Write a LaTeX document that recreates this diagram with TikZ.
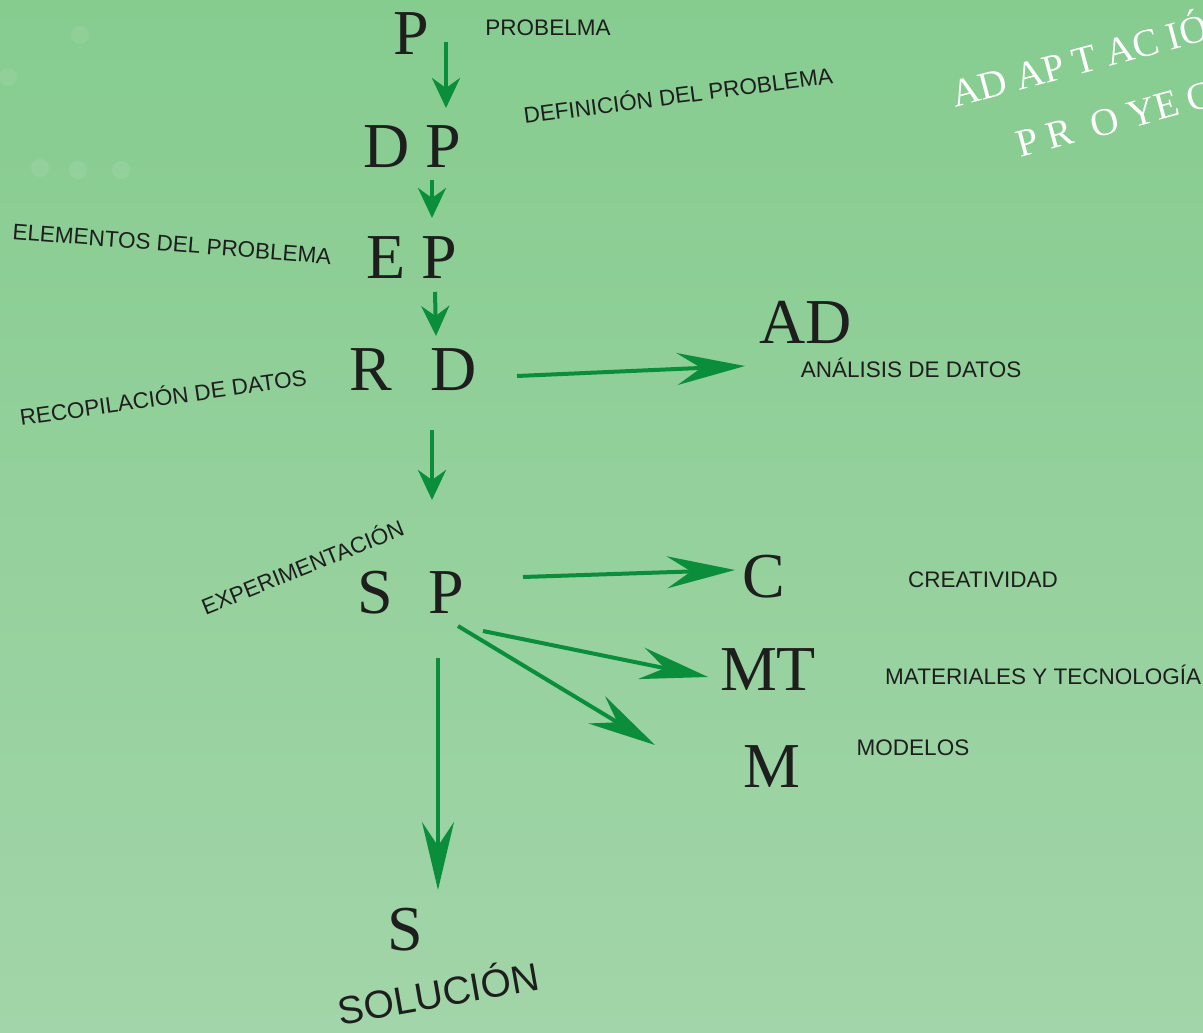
\documentclass[tikz,border=0pt]{standalone}
\usepackage{fontspec}
\setmainfont{Liberation Serif}
\newfontfamily\handfont{Liberation Sans}
\usepackage{xcolor}
\definecolor{bgtop}{HTML}{86CC8F}
\definecolor{bgbot}{HTML}{A2D5A9}
\definecolor{flowgreen}{HTML}{0B8E3B}
\definecolor{inkdark}{HTML}{1E1E1E}
\usepackage{tikz}
\usetikzlibrary{arrows.meta,positioning,calc}
\tikzset{
  bigletter/.style={inner sep=0pt, anchor=base, text=inkdark,
    font=\fontsize{64}{64}\selectfont},
  notehand/.style={inner sep=0pt, text=inkdark, font=\handfont\fontsize{22.5}{22.5}\selectfont},
  titlewhite/.style={anchor=base west, inner sep=0pt, text=white, rotate=15,
    font=\fontsize{39}{39}\selectfont},
  flowshort/.style={draw=flowgreen, line width=4pt,
    -{Stealth[length=30pt, width=28pt, inset=10pt]}},
  flowlong/.style={draw=flowgreen, line width=4pt,
    -{Stealth[length=68pt, width=32pt, inset=24pt]}},
}

\begin{document}
\begin{tikzpicture}[x=1pt, y=-1pt]
  % background
  \shade[top color=bgtop, bottom color=bgbot] (0,0) rectangle (1203,1033);
  \useasboundingbox (0,0) rectangle (1203,1033);
  \foreach \bx/\by in {80/35, 8/77, 40/168, 78/170, 121/170}
    \fill[white, opacity=0.08] (\bx,\by) circle (9);

  % letters
  \node[bigletter] (P)  at (411,55)  {P};
  \node[bigletter] (DP) at (412,167) {D P};
  \node[bigletter] (EP) at (412,278) {E P};
  \node[bigletter] (RD) at (413,390) {R\hspace{0.6em}D};
  \node[bigletter] (AD) at (806,343) {AD};
  \node[bigletter] (SP) at (411,613) {S\hspace{0.55em}P};
  \node[bigletter] (C)  at (764,597) {C};
  \node[bigletter] (MT) at (768,690) {MT};
  \node[bigletter] (M)  at (772,787) {M};
  \node[bigletter] (S)  at (405,950) {S};

  % notes
  \node[notehand] (nP)  at (548,28)  {PROBELMA};
  \node[notehand, rotate=7.5] (nDP) at (678,94) {DEFINICIÓN DEL PROBLEMA};
  \node[notehand, rotate=-4.5] (nEP) at (172,244) {ELEMENTOS DEL PROBLEMA};
  \node[notehand, rotate=8] (nRD) at (163,396) {RECOPILACIÓN DE DATOS};
  \node[notehand] (nAD) at (911,368) {ANÁLISIS DE DATOS};
  \node[notehand, rotate=22] (nSP) at (302,566) {EXPERIMENTACIÓN};
  \node[notehand] (nC)  at (983,580) {CREATIVIDAD};
  \node[notehand, anchor=west] (nMT) at (885,675) {MATERIALES Y TECNOLOGÍA};
  \node[notehand] (nM)  at (913,748) {MODELOS};
  \node[inner sep=0pt, text=inkdark, rotate=10,
    font=\handfont\fontsize{39}{39}\selectfont] (nS) at (438,991) {SOLUCIÓN};

  % title, top right
  \node[titlewhite] (tA) at (955,108) {AD AP T AC IÓN};
  \node[titlewhite] (tB) at (1020,158) {P R\hspace{0.5em}O YE CTO};

  % arrows
  \draw[flowshort] ($(P.base)+(35,-13)$) -- ($(DP.base)+(34,-59)$);
  \draw[flowshort] ($(DP.base)+(20,13)$) -- ($(EP.base)+(20,-60)$);
  \draw[flowshort] ($(EP.base)+(23,14)$) -- ($(RD.base)+(23,-54)$);
  \draw[flowlong]  ($(RD.base)+(104,-14)$) -- ($(AD.base)+(-61,23)$);
  \draw[flowshort] ($(RD.base)+(19,40)$) -- ($(SP.base)+(21,-113)$);
  \draw[flowlong]  ($(SP.base)+(112,-36)$) -- ($(C.base)+(-29,-27)$);
  \draw[flowlong]  ($(SP.base)+(72,18)$) -- ($(MT.base)+(-60,-13)$);
  \draw[flowlong]  ($(SP.base)+(47,13)$) -- ($(M.base)+(-117,-42)$);
  \draw[flowlong]  ($(SP.base)+(27,45)$) -- ($(S.base)+(33,-60)$);
\end{tikzpicture}
\end{document}
